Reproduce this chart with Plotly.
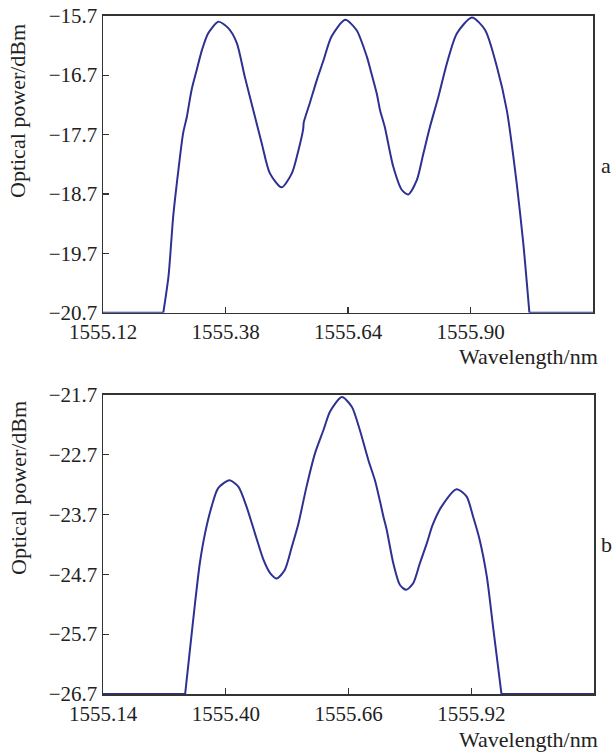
import plotly.graph_objects as go

# ---- Panel a data ----
wl_a = [1555.120, 1555.248, 1555.259, 1555.269, 1555.280, 1555.290, 1555.298, 1555.308,
        1555.319, 1555.330, 1555.343, 1555.365, 1555.386, 1555.404, 1555.421, 1555.439,
        1555.457, 1555.474, 1555.499, 1555.521, 1555.535, 1555.545, 1555.546, 1555.559,
        1555.574, 1555.588, 1555.605, 1555.634, 1555.658, 1555.680, 1555.687, 1555.701,
        1555.708, 1555.718, 1555.736, 1555.754, 1555.768, 1555.786, 1555.800, 1555.814,
        1555.832, 1555.850, 1555.871, 1555.903, 1555.931, 1555.956, 1555.977, 1555.998,
        1556.012, 1556.025, 1556.160]
pw_a = [-20.70, -20.70, -20.09, -19.08, -18.30, -17.68, -17.40, -16.95,
        -16.61, -16.28, -16.00, -15.80, -15.91, -16.16, -16.73, -17.29,
        -17.85, -18.35, -18.59, -18.35, -17.96, -17.60, -17.50, -17.17,
        -16.78, -16.45, -16.05, -15.77, -15.94, -16.39, -16.59, -17.01,
        -17.29, -17.57, -18.24, -18.63, -18.71, -18.47, -18.02, -17.57,
        -17.06, -16.50, -16.00, -15.73, -15.94, -16.56, -17.29, -18.52,
        -19.53, -20.70, -20.70]

# ---- Panel b data ----
wl_b = [1555.140, 1555.314, 1555.324, 1555.335, 1555.345, 1555.356, 1555.370, 1555.384,
        1555.408, 1555.427, 1555.444, 1555.462, 1555.480, 1555.494, 1555.508, 1555.525,
        1555.540, 1555.554, 1555.571, 1555.589, 1555.607, 1555.621, 1555.646, 1555.667,
        1555.684, 1555.702, 1555.716, 1555.727, 1555.734, 1555.741, 1555.755, 1555.769,
        1555.782, 1555.797, 1555.811, 1555.826, 1555.838, 1555.857, 1555.889, 1555.910,
        1555.924, 1555.938, 1555.953, 1555.967, 1555.984, 1556.180]
pw_b = [-26.70, -26.70, -25.97, -25.18, -24.52, -24.02, -23.57, -23.26,
        -23.13, -23.24, -23.57, -24.02, -24.46, -24.68, -24.77, -24.63,
        -24.24, -23.85, -23.24, -22.68, -22.29, -21.98, -21.74, -21.90,
        -22.29, -22.79, -23.13, -23.49, -23.74, -23.96, -24.52, -24.88,
        -24.96, -24.85, -24.52, -24.18, -23.88, -23.57, -23.28, -23.40,
        -23.74, -24.13, -24.74, -25.63, -26.70, -26.70]

xticks_a = [1555.12, 1555.38, 1555.64, 1555.90, 1556.16]
yticks_a = [-20.7, -19.7, -18.7, -17.7, -16.7, -15.7]
xticks_b = [1555.14, 1555.40, 1555.66, 1555.92, 1556.18]
yticks_b = [-26.7, -25.7, -24.7, -23.7, -22.7, -21.7]

line_color = "#2E3192"
axis_color = "#333333"
font_family = "Liberation Serif"

W, H = 615, 753


def px(x):
    return x / W


def py(y):
    return 1 - y / H


fig = go.Figure()
for wl, pw, xa, ya in [(wl_a, pw_a, "x", "y"), (wl_b, pw_b, "x2", "y2")]:
    # flat noise-floor segments (straight) on both sides
    fig.add_trace(go.Scatter(x=wl[:2] + [None] + wl[-2:], y=pw[:2] + [None] + pw[-2:],
                             mode="lines", line=dict(color=line_color, width=2),
                             xaxis=xa, yaxis=ya))
    # smooth spectrum
    fig.add_trace(go.Scatter(x=wl[1:-1], y=pw[1:-1], mode="lines",
                             line=dict(color=line_color, width=2, shape="spline", smoothing=0.7),
                             xaxis=xa, yaxis=ya))

common = dict(showgrid=False, zeroline=False, showline=True, mirror=True,
              linecolor=axis_color, linewidth=1.5, ticks="inside", ticklen=6,
              tickwidth=1.2, tickcolor=axis_color, automargin=False,
              tickfont=dict(family=font_family, size=21, color="#222222"))

fig.update_layout(
    width=W, height=H,
    margin=dict(l=0, r=0, t=0, b=0, autoexpand=False),
    paper_bgcolor="white", plot_bgcolor="white",
    showlegend=False,
    hovermode=False,
    xaxis=dict(domain=[px(103), px(593)], anchor="y", range=[1555.12, 1556.16],
               tickvals=xticks_a, tickformat=".2f", **common),
    yaxis=dict(domain=[py(312.7), py(15.7)], anchor="x", range=[-20.7, -15.7],
               tickvals=yticks_a, tickformat=".1f", **common),
    xaxis2=dict(domain=[px(103), px(594)], anchor="y2", range=[1555.14, 1556.18],
                tickvals=xticks_b, tickformat=".2f", **common),
    yaxis2=dict(domain=[py(694), py(394.7)], anchor="x2", range=[-26.7, -21.7],
                tickvals=yticks_b, tickformat=".1f", **common),
)

tfont = dict(family=font_family, size=22, color="#222222")
ann = [
    dict(text="Wavelength/nm", x=px(600), y=py(356), xanchor="right", yanchor="middle"),
    dict(text="Wavelength/nm", x=px(600), y=py(739), xanchor="right", yanchor="middle"),
    dict(text="Optical power/dBm", x=px(18), y=py(111), xanchor="center", yanchor="middle", textangle=-90),
    dict(text="Optical power/dBm", x=px(18), y=py(488), xanchor="center", yanchor="middle", textangle=-90),
    dict(text="a", x=px(606), y=py(165), xanchor="center", yanchor="middle"),
    dict(text="b", x=px(606), y=py(544), xanchor="center", yanchor="middle"),
]
for a in ann:
    fig.add_annotation(xref="paper", yref="paper", showarrow=False, font=tfont, **a)

# remove the browser's default 8px body margin so the figure sits at the page origin
fig.write_html("out.html",
               config={"displayModeBar": False, "staticPlot": True},
               post_script="document.body.style.margin='0';document.body.style.overflow='hidden';")
